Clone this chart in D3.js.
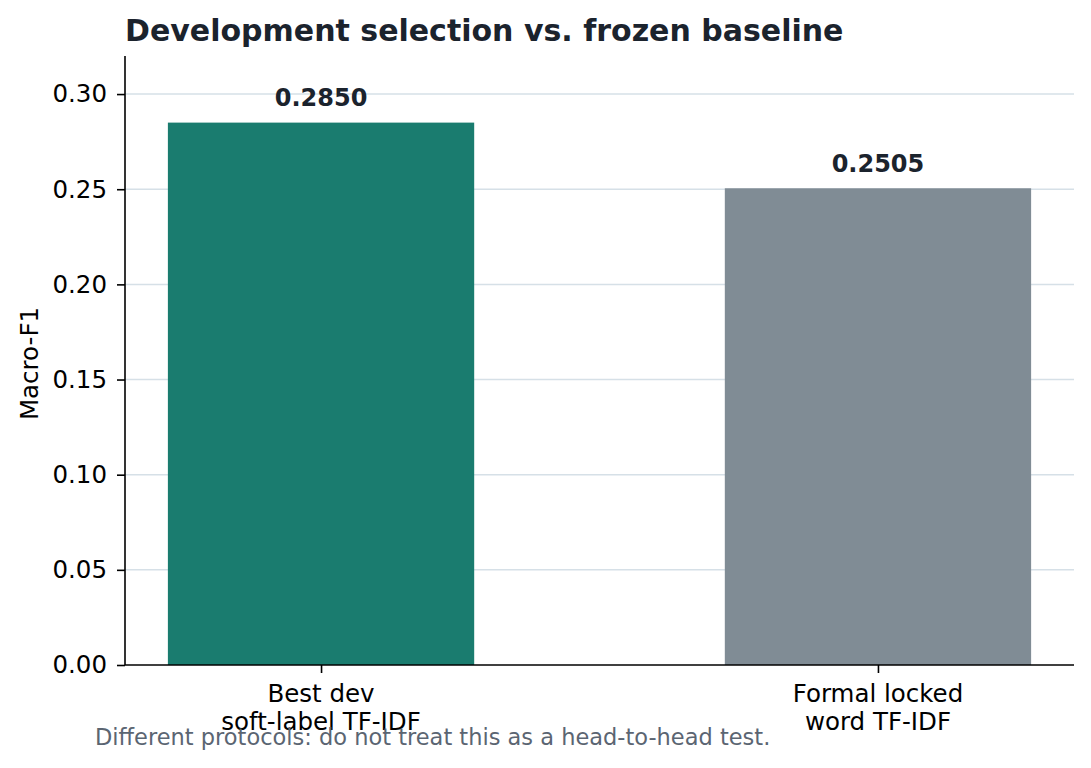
<!DOCTYPE html>
<html>
<head>
<meta charset="utf-8">
<script src="https://cdn.jsdelivr.net/npm/d3@7"></script>
<style>
  body { margin: 0; background: #fff; }
  svg { display: block; font-family: "DejaVu Sans", sans-serif; }
</style>
</head>
<body>
<svg id="chart" width="1091" height="768"></svg>
<script>
const categories = [["Best dev", "soft-label TF-IDF"], ["Formal locked", "word TF-IDF"]];
const values = [0.2850, 0.2505];
const valueLabels = ["0.2850", "0.2505"];
const barColors = ["#1a7c6f", "#808c95"];
const yTicks = [0.00, 0.05, 0.10, 0.15, 0.20, 0.25, 0.30];

const svg = d3.select("#chart");
const margin = { left: 125, right: 17, top: 56, bottom: 103 };
const W = 1091, H = 768;
const x0 = margin.left, x1 = W - margin.right;
const yTop = margin.top, yBot = H - margin.bottom;

const x = d3.scaleLinear().domain([-0.352, 1.352]).range([x0, x1]);
const y = d3.scaleLinear().domain([0, 0.32]).range([yBot, yTop]);
const barW = 0.55;

// gridlines
svg.append("g").selectAll("line").data(yTicks.filter(d => d > 0)).join("line")
  .attr("x1", x0).attr("x2", x1)
  .attr("y1", d => y(d)).attr("y2", d => y(d))
  .attr("stroke", "#d6e0e7").attr("stroke-width", 1.5);

// bars
svg.append("g").selectAll("rect").data(values).join("rect")
  .attr("x", (d, i) => x(i - barW / 2))
  .attr("width", (d, i) => x(i + barW / 2) - x(i - barW / 2))
  .attr("y", d => y(d))
  .attr("height", d => y(0) - y(d))
  .attr("fill", (d, i) => barColors[i]);

// value labels
svg.append("g").selectAll("text").data(values).join("text")
  .attr("x", (d, i) => x(i))
  .attr("y", d => y(d) - 16.5)
  .attr("text-anchor", "middle")
  .attr("font-size", 24).attr("font-weight", "bold")
  .attr("fill", "#1b232d")
  .text((d, i) => valueLabels[i]);

// y axis
const yAxis = d3.axisLeft(y).tickValues(yTicks).tickFormat(d3.format(".2f")).tickSize(8).tickPadding(10);
const gy = svg.append("g").attr("transform", `translate(${x0},0)`).call(yAxis);
gy.select(".domain").attr("stroke", "#000").attr("stroke-width", 1.6).attr("d", `M0,${yTop}V${yBot}`);
gy.selectAll(".tick line").attr("stroke", "#000").attr("stroke-width", 1.6);
gy.selectAll(".tick text").attr("font-size", 24.5).attr("fill", "#000").attr("font-family", "DejaVu Sans");

// x axis
const xAxis = d3.axisBottom(x).tickValues([0, 1]).tickFormat("").tickSize(8);
const gx = svg.append("g").attr("transform", `translate(0,${yBot})`).call(xAxis);
gx.select(".domain").attr("stroke", "#000").attr("stroke-width", 1.6).attr("d", `M${x0},0H${x1}`);
gx.selectAll(".tick line").attr("stroke", "#000").attr("stroke-width", 1.6);

// x labels (two lines)
const xl = svg.append("g").selectAll("text").data(categories).join("text")
  .attr("text-anchor", "middle")
  .attr("font-size", 24.5).attr("fill", "#000");
xl.each(function(d, i) {
  const t = d3.select(this);
  d.forEach((line, j) => {
    t.append("tspan").attr("x", x(i)).attr("y", yBot + 37 + j * 27.5).text(line);
  });
});

// y label
svg.append("text")
  .attr("transform", `translate(38,${(yTop + yBot) / 2 + 3}) rotate(-90)`)
  .attr("text-anchor", "middle")
  .attr("font-size", 24.5).attr("fill", "#000")
  .text("Macro-F1");

// title
svg.append("text")
  .attr("x", x0).attr("y", 41)
  .attr("font-size", 30).attr("font-weight", "bold")
  .attr("fill", "#1b232d")
  .text("Development selection vs. frozen baseline");

// footnote
svg.append("text")
  .attr("x", 95).attr("y", 745)
  .attr("font-size", 22.5).attr("fill", "#5b6572")
  .text("Different protocols: do not treat this as a head-to-head test.");
</script>
</body>
</html>
